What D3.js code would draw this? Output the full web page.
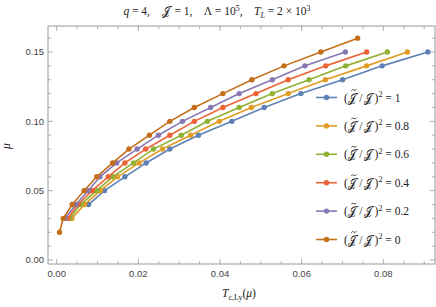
<!DOCTYPE html>
<html><head><meta charset="utf-8">
<script src="https://cdn.jsdelivr.net/npm/d3@7"></script>
<style>
html,body{margin:0;padding:0;background:#fff;}
svg{display:block;}
text{white-space:pre;}
</style></head>
<body>
<svg id="chart" width="436" height="307"></svg>
<script>
// ---- data ----
const seriesLabels = ["1", "0.8", "0.6", "0.4", "0.2", "0"];
const seriesColors = ["#5E81B5", "#E19C24", "#8FB032", "#EB6235", "#8778B3", "#C56E1A"];
const muBlue   = [0.04,0.05,0.06,0.07,0.08,0.09,0.10,0.11,0.12,0.13,0.14,0.15];
const tcBlue   = [0.0078,0.0117,0.0167,0.0219,0.0277,0.0347,0.0429,0.0508,0.0598,0.0700,0.0797,0.0909];
const muOrange = [0.03,0.04,0.05,0.06,0.07,0.08,0.09,0.10,0.11,0.12,0.13,0.14,0.15];
const tcOrange = [0.0037,0.0068,0.0107,0.0149,0.0202,0.0259,0.0328,0.0398,0.0477,0.0567,0.0658,0.0759,0.0859];
const muGreen  = [0.03,0.04,0.05,0.06,0.07,0.08,0.09,0.10,0.11,0.12,0.13,0.14,0.15];
const tcGreen  = [0.0032,0.0058,0.0098,0.0137,0.0188,0.0237,0.0305,0.0369,0.0447,0.0528,0.0618,0.0708,0.0810];
const muRed    = [0.03,0.04,0.05,0.06,0.07,0.08,0.09,0.10,0.11,0.12,0.13,0.14,0.15];
const tcRed    = [0.0027,0.0052,0.0087,0.0126,0.0167,0.0218,0.0277,0.0337,0.0407,0.0488,0.0567,0.0659,0.0759];
const muPurple = [0.03,0.04,0.05,0.06,0.07,0.08,0.09,0.10,0.11,0.12,0.13,0.14,0.15];
const tcPurple = [0.0020,0.0047,0.0077,0.0106,0.0147,0.0197,0.0249,0.0308,0.0377,0.0447,0.0528,0.0608,0.0707];
const muBrown  = [0.02,0.03,0.04,0.05,0.06,0.07,0.08,0.09,0.10,0.11,0.12,0.13,0.14,0.15,0.16];
const tcBrown  = [0.0007,0.0016,0.0038,0.0067,0.0098,0.0137,0.0177,0.0227,0.0277,0.0337,0.0407,0.0478,0.0557,0.0647,0.0737];
const xTicks = [0.00,0.02,0.04,0.06,0.08];
const xTickLabels = ["0.00","0.02","0.04","0.06","0.08"];
const yTicks = [0.00,0.05,0.10,0.15];
const yTickLabels = ["0.00","0.05","0.10","0.15"];

const series = [
  {mu: muBlue, tc: tcBlue},
  {mu: muOrange, tc: tcOrange},
  {mu: muGreen, tc: tcGreen},
  {mu: muRed, tc: tcRed},
  {mu: muPurple, tc: tcPurple},
  {mu: muBrown, tc: tcBrown}
].map((s,i)=>({label: seriesLabels[i], color: seriesColors[i], pts: s.mu.map((m,j)=>[s.tc[j], m])}));

// ---- layout ----
const L = 48, R = 435, T = 26, B = 264;
const x = d3.scaleLinear().domain([-0.00213, 0.09265]).range([L, R]);
const y = d3.scaleLinear().domain([-0.00288, 0.16875]).range([B, T]);
const svg = d3.select("#chart");
const frameColor = "#9a9a9a";
const tickTextColor = "#444";

svg.append("defs").append("clipPath").attr("id","clip")
  .append("rect").attr("x",L).attr("y",T).attr("width",R-L).attr("height",B-T);

// ticks
const xMinor = d3.range(0, 0.0926, 0.005);
const yMinor = d3.range(0, 0.1688, 0.01);
const tickG = svg.append("g").attr("stroke", frameColor).attr("stroke-width", 0.8);
xMinor.forEach(v=>{
  const major = xTicks.some(t=>Math.abs(t-v)<1e-9);
  const len = major ? 5 : 3;
  tickG.append("line").attr("x1",x(v)).attr("x2",x(v)).attr("y1",B).attr("y2",B-len);
  tickG.append("line").attr("x1",x(v)).attr("x2",x(v)).attr("y1",T).attr("y2",T+len);
});
yMinor.forEach(v=>{
  const major = yTicks.some(t=>Math.abs(t-v)<1e-9);
  const len = major ? 5 : 3;
  tickG.append("line").attr("y1",y(v)).attr("y2",y(v)).attr("x1",L).attr("x2",L+len);
  tickG.append("line").attr("y1",y(v)).attr("y2",y(v)).attr("x1",R).attr("x2",R-len);
});

svg.append("rect").attr("x",L).attr("y",T).attr("width",R-L).attr("height",B-T)
  .attr("fill","none").attr("stroke",frameColor).attr("stroke-width",1);

// tick labels
const tickFont = "Liberation Sans, Arial, sans-serif";
svg.append("g").selectAll("text").data(xTicks).join("text")
  .attr("x", d=>x(d)).attr("y", B+13).attr("text-anchor","middle")
  .attr("font-family",tickFont).attr("font-size",9.5).attr("fill",tickTextColor)
  .text((d,i)=>xTickLabels[i]);
svg.append("g").selectAll("text").data(yTicks).join("text")
  .attr("x", L-4).attr("y", d=>y(d)+3.4).attr("text-anchor","end")
  .attr("font-family",tickFont).attr("font-size",9.5).attr("fill",tickTextColor)
  .text((d,i)=>yTickLabels[i]);

// series
const line = d3.line().x(d=>x(d[0])).y(d=>y(d[1]));
const plot = svg.append("g").attr("clip-path","url(#clip)");
series.forEach(s=>{
  plot.append("path").attr("d", line(s.pts)).attr("fill","none")
    .attr("stroke", s.color).attr("stroke-width", 1.6);
  plot.append("g").selectAll("circle").data(s.pts).join("circle")
    .attr("cx", d=>x(d[0])).attr("cy", d=>y(d[1])).attr("r", 2.7).attr("fill", s.color);
});

// legend
const serif = "Liberation Serif, DejaVu Serif, serif";
const scriptJ = "\uD835\uDCA5";
const lg = svg.append("g");
series.forEach((s,i)=>{
  const ly = 97.5 + i*28.4;
  lg.append("line").attr("x1",316).attr("x2",337).attr("y1",ly).attr("y2",ly)
    .attr("stroke",s.color).attr("stroke-width",1.6);
  lg.append("circle").attr("cx",326.5).attr("cy",ly).attr("r",2.7).attr("fill",s.color);
  const t = lg.append("text").attr("x",344).attr("y",ly+4).attr("font-family",serif)
    .attr("font-size",11.5).attr("fill","#222");
  t.append("tspan").text("(");
  t.append("tspan").attr("dx",0.5).text(scriptJ);
  t.append("tspan").attr("dx",3).text("/");
  t.append("tspan").attr("dx",1.5).text(scriptJ);
  t.append("tspan").attr("dx",2.5).text(")");
  t.append("tspan").attr("font-size",8).attr("dy",-4.5).text("2");
  t.append("tspan").attr("dy",4.5).text(" = " + s.label);
  // tilde over the first J, drawn as a small path
  const ext = t.node().getExtentOfChar(1);
  const cx = ext.x + ext.width/2 + 1.5, cy = ly - 7.5;
  lg.append("path")
    .attr("d", `M${cx-2.6},${cy+0.8} Q${cx-1.3},${cy-1.4} ${cx},${cy} T${cx+2.6},${cy-0.8}`)
    .attr("fill","none").attr("stroke","#222").attr("stroke-width",0.8);
});

// title
const title = svg.append("text").attr("x",217).attr("y",15).attr("text-anchor","middle")
  .attr("font-family",serif).attr("font-size",11.5).attr("fill","#222");
title.append("tspan").attr("font-style","italic").text("q");
title.append("tspan").text(" = 4,    ");
title.append("tspan").text(scriptJ);
title.append("tspan").attr("dx",2).text(" = 1,    \u039B = 10");
title.append("tspan").attr("font-size",8).attr("dy",-4.5).text("5");
title.append("tspan").attr("dy",4.5).text(",    ");
title.append("tspan").attr("font-style","italic").text("T");
title.append("tspan").attr("font-style","italic").attr("font-size",8).attr("dy",2.5).text("L");
title.append("tspan").attr("dy",-2.5).text(" = 2 \u00D7 10");
title.append("tspan").attr("font-size",8).attr("dy",-4.5).text("3");

// axis labels
const xl = svg.append("text").attr("x",239).attr("y",297).attr("text-anchor","middle")
  .attr("font-family",serif).attr("font-size",11.5).attr("fill","#222");
xl.append("tspan").attr("font-style","italic").text("T");
xl.append("tspan").attr("font-size",8).attr("dy",2.5).text("c,Ly");
xl.append("tspan").attr("dy",-2.5).text("(");
xl.append("tspan").attr("font-style","italic").text("\u03BC");
xl.append("tspan").text(")");

svg.append("text").attr("transform","translate(10,146) rotate(-90)")
  .attr("text-anchor","middle").attr("font-family",serif).attr("font-size",11.5)
  .attr("font-style","italic").attr("fill","#222").text("\u03BC");
</script>
</body></html>
